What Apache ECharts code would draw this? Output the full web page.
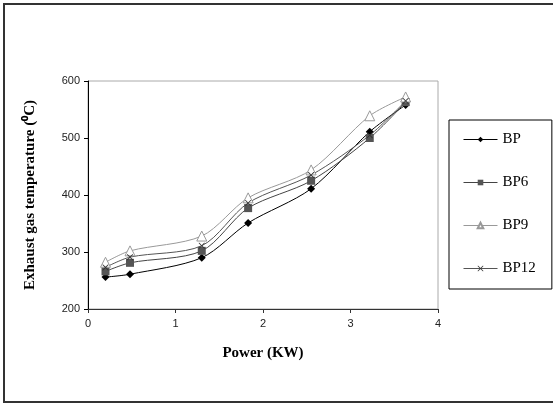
<!DOCTYPE html>
<html>
<head>
<meta charset="utf-8">
<script src="https://cdn.jsdelivr.net/npm/echarts@6/dist/echarts.min.js"></script>
<style>
  html, body { margin: 0; padding: 0; background: #fff; }
  #chart { width: 553px; height: 405px; }
</style>
</head>
<body>
<div id="chart"></div>
<script>
// power (KW) on x
const powerKW = [0.2, 0.48, 1.3, 1.83, 2.55, 3.22, 3.63];

// exhaust gas temperature per blend
const bp   = [256, 261, 290, 351, 411, 511, 558];
const bp6  = [266, 281, 302, 377, 425, 500, 563];
const bp9  = [282, 302, 328, 395, 444, 539, 572];
const bp12 = [273, 291, 311, 386, 435, 505, 565];

const xTicks = [0, 1, 2, 3, 4];
const yTicks = [200, 300, 400, 500, 600];

const chart = echarts.init(document.getElementById('chart'));

const pair = arr => powerKW.map((x, i) => [x, arr[i]]);
// thin "x" marker
const xMark = 'path://M0,0L1,0L5,4L9,0L10,0L10,1L6,5L10,9L10,10L9,10L5,6L1,10L0,10L0,9L4,5L0,1Z';
const serif = '"Liberation Serif", "Times New Roman", serif';

function line(name, data, color, symbol, size, symColor, symBorder) {
    return {
        name, type: 'line', data: pair(data), smooth: 0.3,
        symbol, symbolSize: size,
        lineStyle: { color, width: 1 },
        itemStyle: { color: symColor, borderColor: symBorder || symColor, borderWidth: symBorder ? 1 : 0 }
    };
}

chart.setOption({
    animation: false,
    graphic: [{
        type: 'rect', shape: { x: 4, y: 4, width: 600, height: 398 },
        style: { fill: 'none', stroke: '#333', lineWidth: 2 }
    }],
    grid: { left: 88, top: 81, width: 350, height: 228, show: true, borderColor: '#aaa', borderWidth: 1 },
    legend: {
        orient: 'vertical', left: 449, top: 120,
        padding: [12, 16, 13, 14], itemGap: 28,
        itemWidth: 34, itemHeight: 7,
        borderColor: '#000', borderWidth: 1,
        lineStyle: { width: 1 },
        textStyle: { fontFamily: serif, fontSize: 15, color: '#000' },
        data: ['BP', 'BP6', 'BP9', 'BP12']
    },
    xAxis: {
        type: 'value', min: 0, max: 4, interval: 1,
        name: 'Power (KW)', nameLocation: 'middle', nameGap: 37,
        nameTextStyle: { fontFamily: serif, fontSize: 15, fontWeight: 'bold', color: '#000' },
        axisLine: { lineStyle: { color: '#333' } },
        axisTick: { length: 4, lineStyle: { color: '#333' } },
        axisLabel: { fontFamily: 'Liberation Sans, Arial', fontSize: 11, color: '#222', margin: 9,
                     formatter: v => xTicks.includes(v) ? String(v) : '' },
        splitLine: { show: false }
    },
    yAxis: {
        type: 'value', min: 200, max: 600, interval: 100,
        name: 'Exhaust gas temperature (⁰C)', nameLocation: 'middle', nameGap: 50, nameRotate: 90,
        nameTextStyle: { fontFamily: serif, fontSize: 15, fontWeight: 'bold', color: '#000' },
        axisLine: { show: true, lineStyle: { color: '#000' } },
        axisTick: { show: true, length: 4, lineStyle: { color: '#000' } },
        axisLabel: { fontFamily: 'Liberation Sans, Arial', fontSize: 11, color: '#222', margin: 8,
                     formatter: v => yTicks.includes(v) ? String(v) : '' },
        splitLine: { show: false }
    },
    series: [
        line('BP', bp, '#000', 'diamond', 8, '#000'),
        line('BP6', bp6, '#444', 'rect', 8, '#555'),
        line('BP9', bp9, '#999', 'triangle', 10, '#fff', '#999'),
        line('BP12', bp12, '#555', xMark, 6, '#333')
    ]
});

window.onresize = () => chart.resize();
</script>
</body>
</html>
